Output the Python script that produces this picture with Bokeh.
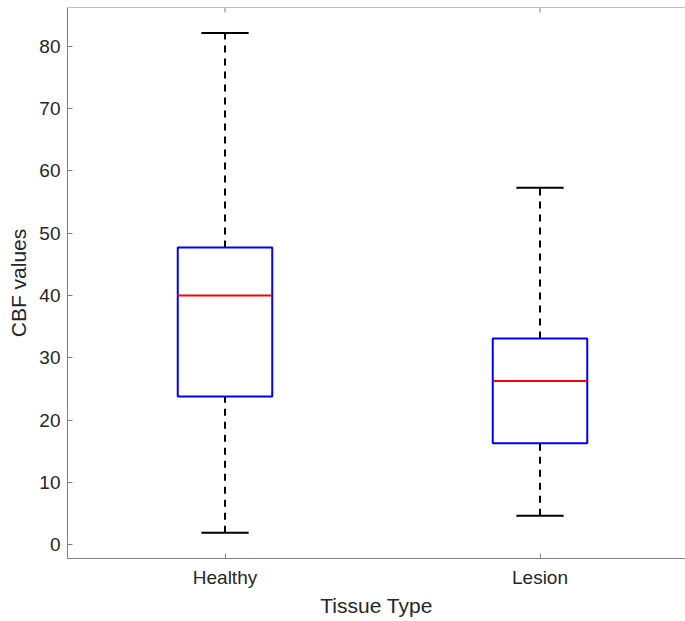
from bokeh.plotting import figure
from bokeh.models import FixedTicker, Range1d, ColumnDataSource, Span
from bokeh.embed import file_html
from bokeh.resources import INLINE

# Data
categories = ["Healthy", "Lesion"]
positions = [1, 2]
upper_whisker = [82.1, 57.3]
q3 = [47.7, 33.1]
median = [40.0, 26.3]
q1 = [23.8, 16.3]
lower_whisker = [1.95, 4.7]
y_ticks = [0, 10, 20, 30, 40, 50, 60, 70, 80]

box_half = 0.15
cap_half = 0.075

FRAME_W, FRAME_H = 618, 551
Y0, Y1 = -2.17, 86.2
X0, X1 = 0.5, 0.5 + FRAME_W / 315
tick_len = 5 * (Y1 - Y0) / FRAME_H  # 5 px expressed in data units

src = ColumnDataSource(dict(
    x=positions,
    left=[p - box_half for p in positions],
    right=[p + box_half for p in positions],
    cap_l=[p - cap_half for p in positions],
    cap_r=[p + cap_half for p in positions],
    uw=upper_whisker, q3=q3, med=median, q1=q1, lw=lower_whisker,
))
tick_src = ColumnDataSource(dict(x=positions, y0=[Y1] * len(positions),
                                 y1=[Y1 - tick_len] * len(positions)))

FONT = "Liberation Sans"
TXT = "#262626"
AX = "#808080"

p = figure(width=685, height=621,
           output_backend="svg", toolbar_location=None,
           x_range=Range1d(X0, X1), y_range=Range1d(Y0, Y1),
           min_border_left=67, min_border_right=0, min_border_top=7, min_border_bottom=63,
           x_axis_label="Tissue Type", y_axis_label="CBF values")
p.outline_line_color = None
p.outline_line_alpha = 0
p.grid.visible = False
p.background_fill_color = "white"
p.border_fill_color = "white"

# whiskers (dashed)
p.segment(x0="x", y0="q3", x1="x", y1="uw", source=src, line_color="black",
          line_width=2, line_dash="7 6")
p.segment(x0="x", y0="lw", x1="x", y1="q1", source=src, line_color="black",
          line_width=2, line_dash="7 6")
# caps
p.segment(x0="cap_l", y0="uw", x1="cap_r", y1="uw", source=src, line_color="black", line_width=2)
p.segment(x0="cap_l", y0="lw", x1="cap_r", y1="lw", source=src, line_color="black", line_width=2)
# boxes
p.quad(left="left", right="right", bottom="q1", top="q3", source=src,
       fill_color=None, line_color="#0000ff", line_width=2)
# medians
p.segment(x0="left", y0="med", x1="right", y1="med", source=src, line_color="#ff0000", line_width=2)

# top frame line with inward ticks (MATLAB box on)
p.add_layout(Span(location=Y1, dimension="width", line_color=AX, line_width=1))
p.segment(x0="x", y0="y0", x1="x", y1="y1", source=tick_src, line_color=AX, line_width=1)
# the right side of the axes box is cut off in the reference: mask any edge line
p.add_layout(Span(location=X1, dimension="height", line_color="white", line_width=3))

xa = p.xaxis[0]
xa.ticker = FixedTicker(ticks=positions)
xa.major_label_overrides = {pos: c for pos, c in zip(positions, categories)}
ya = p.yaxis[0]
ya.ticker = FixedTicker(ticks=y_ticks)

for ax in (xa, ya):
    ax.axis_line_color = AX
    ax.axis_line_width = 1
    ax.major_tick_line_color = AX
    ax.major_tick_in = 5
    ax.major_tick_out = 0
    ax.minor_tick_line_color = None
    ax.major_label_text_font = FONT
    ax.major_label_text_font_size = "19px"
    ax.major_label_text_color = TXT
    ax.axis_label_text_font = FONT
    ax.axis_label_text_font_size = "21px"
    ax.axis_label_text_font_style = "normal"
    ax.axis_label_text_color = TXT

xa.major_label_standoff = 8
xa.axis_label_standoff = 3
ya.major_label_standoff = 7
ya.axis_label_standoff = 6

open("out.html", "w").write(file_html(p, INLINE))
